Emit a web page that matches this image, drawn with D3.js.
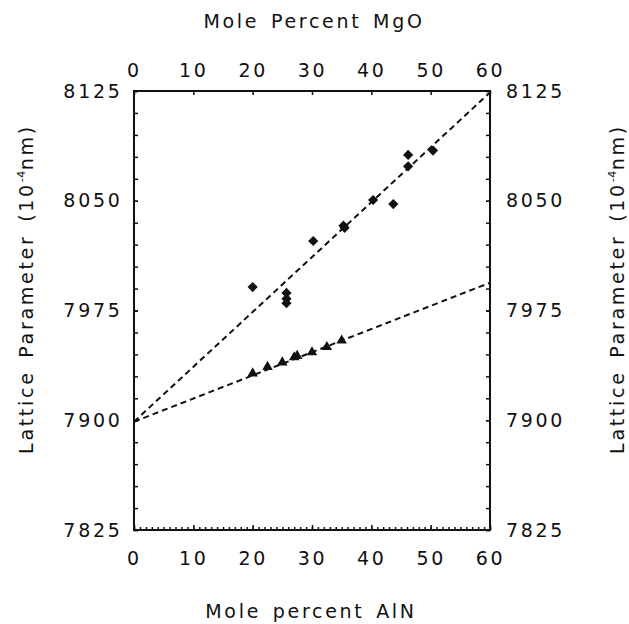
<!DOCTYPE html>
<html>
<head>
<meta charset="utf-8">
<script src="https://cdn.jsdelivr.net/npm/d3@7"></script>
<style>
  body { margin: 0; background: #fff; }
  svg text { font-family: "DejaVu Sans", sans-serif; fill: #111; }
</style>
</head>
<body>
<svg id="chart" width="629" height="624"></svg>
<script>
// punkty MgO (os gorna) - romby
const mgoX = [20, 25.7, 25.7, 25.7, 30.2, 35.3, 35.5, 40.3, 43.7, 46.2, 46.2, 50.4];
const mgoY = [7991, 7987, 7983, 7980, 8022.5, 8033, 8031.5, 8050.5, 8047.7, 8081.3, 8073.5, 8084.3];

// punkty AlN (os dolna) - trojkaty
const alnX = [20, 22.5, 25, 27, 27.5, 30, 32.5, 35];
const alnY = [7932, 7936.5, 7939.5, 7943, 7944, 7946.5, 7950, 7954.5];

// linie dopasowania (konce)
const mgoFitX = [0, 60];
const mgoFitY = [7899, 8124];
const alnFitX = [0, 60];
const alnFitY = [7899, 7994];

const xTicks = [0, 10, 20, 30, 40, 50, 60];
const yTicks = [7825, 7900, 7975, 8050, 8125];

const svg = d3.select("#chart");
const FS = 19, LS = 2.7;

const x = d3.scaleLinear().domain([0, 60]).range([134, 490]);
const y = d3.scaleLinear().domain([7825, 8125]).range([530, 91]);

function styleAxis(g) {
  g.select(".domain").remove();
  g.selectAll("line").attr("stroke", "#111").attr("stroke-width", 1.5);
  g.selectAll("text")
    .attr("font-size", FS)
    .attr("letter-spacing", LS)
    .attr("fill", "#111");
}

// ########## OSIE ##########
// dolna - drobne ticki co 1
svg.append("g")
  .attr("transform", "translate(0,530)")
  .call(d3.axisBottom(x).tickValues(d3.range(0, 61, 1)).tickSizeInner(-3).tickSizeOuter(0).tickFormat(""))
  .call(styleAxis);
// dolna - glowne
svg.append("g")
  .attr("transform", "translate(0,530)")
  .call(d3.axisBottom(x).tickValues(xTicks).tickSizeInner(-5).tickSizeOuter(0).tickPadding(22).tickFormat(d3.format("d")))
  .call(styleAxis);

// gorna
svg.append("g")
  .attr("transform", "translate(0,91)")
  .call(d3.axisTop(x).tickValues(xTicks).tickSizeInner(-4).tickSizeOuter(0).tickPadding(14.5).tickFormat(d3.format("d")))
  .call(styleAxis);

// lewa
svg.append("g")
  .attr("transform", "translate(134,0)")
  .call(d3.axisLeft(y).tickValues(d3.range(7825, 8126, 15)).tickSizeInner(-4).tickSizeOuter(0).tickFormat(""))
  .call(styleAxis);
svg.append("g")
  .attr("transform", "translate(134,0)")
  .call(d3.axisLeft(y).tickValues(yTicks).tickSizeInner(-4).tickSizeOuter(0).tickPadding(11.5).tickFormat(d3.format("d")))
  .call(styleAxis);

// prawa
svg.append("g")
  .attr("transform", "translate(490,0)")
  .call(d3.axisRight(y).tickValues(d3.range(7825, 8126, 15)).tickSizeInner(-4).tickSizeOuter(0).tickFormat(""))
  .call(styleAxis);
svg.append("g")
  .attr("transform", "translate(490,0)")
  .call(d3.axisRight(y).tickValues(yTicks).tickSizeInner(-4).tickSizeOuter(0).tickPadding(16).tickFormat(d3.format("d")))
  .call(styleAxis);

// ramka
svg.append("rect")
  .attr("x", x(0)).attr("y", y(8125))
  .attr("width", x(60) - x(0)).attr("height", y(7825) - y(8125))
  .attr("fill", "none").attr("stroke", "#111").attr("stroke-width", 2);

// ########## LINIE ##########
const line = d3.line().x(d => x(d[0])).y(d => y(d[1]));
[[mgoFitX, mgoFitY], [alnFitX, alnFitY]].forEach(([xs, ys]) => {
  svg.append("path")
    .datum(xs.map((v, i) => [v, ys[i]]))
    .attr("d", line)
    .attr("fill", "none")
    .attr("stroke", "#111")
    .attr("stroke-width", 2)
    .attr("stroke-dasharray", "6,4");
});

// ########## PUNKTY ##########
svg.append("g").selectAll("path")
  .data(mgoX.map((v, i) => [v, mgoY[i]]))
  .enter()
  .append("path")
  .attr("d", d3.symbol().type(d3.symbolSquare).size(52))
  .attr("transform", d => `translate(${x(d[0])},${y(d[1])}) rotate(45)`)
  .attr("fill", "#111");

svg.append("g").selectAll("path")
  .data(alnX.map((v, i) => [v, alnY[i]]))
  .enter()
  .append("path")
  .attr("d", d3.symbol().type(d3.symbolTriangle).size(48))
  .attr("transform", d => `translate(${x(d[0])},${y(d[1])})`)
  .attr("fill", "#111");

// ########## TYTULY ##########
svg.append("text")
  .attr("x", 314).attr("y", 28)
  .attr("text-anchor", "middle")
  .attr("font-size", FS).attr("letter-spacing", LS).attr("word-spacing", 3)
  .text("Mole Percent MgO");

svg.append("text")
  .attr("x", 311).attr("y", 618)
  .attr("text-anchor", "middle")
  .attr("font-size", FS).attr("letter-spacing", LS).attr("word-spacing", 3)
  .text("Mole percent AlN");

function yTitle(px) {
  const t = svg.append("text")
    .attr("transform", `translate(${px},289) rotate(-90)`)
    .attr("text-anchor", "middle")
    .attr("font-size", FS).attr("letter-spacing", LS).attr("word-spacing", 4);
  t.append("tspan").text("Lattice Parameter (10");
  t.append("tspan").attr("font-size", 11).attr("dy", -8).attr("letter-spacing", 0.5).text("-4");
  t.append("tspan").attr("dy", 8).text("nm)");
}
yTitle(33);
yTitle(624);
</script>
</body>
</html>
